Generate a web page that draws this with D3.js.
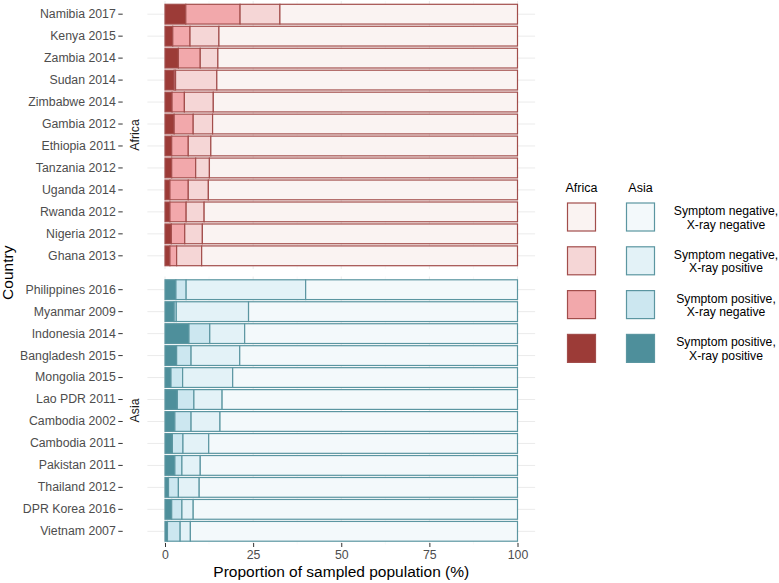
<!DOCTYPE html>
<html>
<head>
<meta charset="utf-8">
<script src="https://cdn.jsdelivr.net/npm/d3@7"></script>
<style>
  body { margin: 0; background: #fff; }
  svg { font-family: "Liberation Sans", Arial, sans-serif; }
</style>
</head>
<body>
<div id="chart"></div>
<script>
// data (percent of sampled population)
const africaCountries = ["Namibia 2017", "Kenya 2015", "Zambia 2014", "Sudan 2014", "Zimbabwe 2014", "Gambia 2012",
  "Ethiopia 2011", "Tanzania 2012", "Uganda 2014", "Rwanda 2012", "Nigeria 2012", "Ghana 2013"];
const africaSpXp = [5.9, 2.2, 3.8, 2.6, 2.0, 2.6, 1.9, 1.9, 1.4, 1.4, 1.8, 1.4];
const africaSpXn = [15.4, 4.9, 6.2, 0.4, 3.5, 5.4, 4.7, 6.8, 5.2, 4.6, 3.8, 1.9];
const africaSnXp = [11.3, 8.2, 5.0, 11.7, 8.2, 5.5, 6.4, 3.9, 5.7, 5.1, 5.0, 7.1];

const asiaCountries = ["Philippines 2016", "Myanmar 2009", "Indonesia 2014", "Bangladesh 2015", "Mongolia 2015", "Lao PDR 2011",
  "Cambodia 2002", "Cambodia 2011", "Pakistan 2011", "Thailand 2012", "DPR Korea 2016", "Vietnam 2007"];
const asiaSpXp = [3.1, 2.6, 6.8, 3.3, 1.7, 3.5, 2.8, 2.1, 2.8, 1.0, 1.9, 0.7];
const asiaSpXn = [2.9, 0.6, 5.9, 4.1, 3.3, 4.7, 4.6, 3.0, 2.0, 2.8, 2.9, 3.6];
const asiaSnXp = [33.9, 20.5, 9.9, 13.8, 14.2, 8.0, 8.2, 7.3, 5.2, 5.9, 3.2, 2.9];

const xTicks = [0, 25, 50, 75, 100];
const groupLabels = ["Symptom negative,\nX-ray negative", "Symptom negative,\nX-ray positive",
  "Symptom positive,\nX-ray negative", "Symptom positive,\nX-ray positive"];

// stacking order, left to right
const keys = ["spxp", "spxn", "snxp", "snxn"];

const palettes = {
  Africa: {stroke: "#a24d4b", fill: {spxp: "#9c3b37", spxn: "#f2a8ab", snxp: "#f5d6d6", snxn: "#faf3f2"}},
  Asia:   {stroke: "#5b96a1", fill: {spxp: "#4e8f9b", spxn: "#cce7f0", snxp: "#e3f2f7", snxn: "#f3f9fb"}}
};

function makeRows(countries, a, b, c) {
  return countries.map((name, i) => ({
    country: name, spxp: a[i], spxn: b[i], snxp: c[i], snxn: 100 - a[i] - b[i] - c[i]
  }));
}

const panels = [
  {region: "Africa", rows: makeRows(africaCountries, africaSpXp, africaSpXn, africaSnXp), top: 1, bottom: 269},
  {region: "Asia", rows: makeRows(asiaCountries, asiaSpXp, asiaSpXn, asiaSnXp), top: 276.5, bottom: 544.5}
];

const width = 779;
const height = 583;

const svg = d3.select("#chart")
  .append("svg")
  .attr("width", width)
  .attr("height", height);

const x = d3.scaleLinear().domain([0, 100]).range([165, 517.5]);
const panelLeft = x(-5), panelRight = x(105);

const stack = d3.stack().keys(keys);

panels.forEach(p => {
  const y = d3.scaleBand()
    .domain(p.rows.map(d => d.country))
    .range([p.top, p.bottom])
    .paddingInner(0.1)
    .paddingOuter(0.15);

  const g = svg.append("g");

  // minor + major vertical grid
  g.selectAll(".vminor")
    .data([12.5, 37.5, 62.5, 87.5])
    .join("line")
    .attr("x1", d => x(d)).attr("x2", d => x(d))
    .attr("y1", p.top).attr("y2", p.bottom)
    .attr("stroke", "#f2f2f2").attr("stroke-width", 0.5);

  g.selectAll(".vmajor")
    .data(xTicks)
    .join("line")
    .attr("x1", d => x(d)).attr("x2", d => x(d))
    .attr("y1", p.top).attr("y2", p.bottom)
    .attr("stroke", "#ebebeb").attr("stroke-width", 1);

  g.selectAll(".hgrid")
    .data(p.rows)
    .join("line")
    .attr("x1", panelLeft).attr("x2", panelRight)
    .attr("y1", d => y(d.country) + y.bandwidth() / 2)
    .attr("y2", d => y(d.country) + y.bandwidth() / 2)
    .attr("stroke", "#ebebeb").attr("stroke-width", 1);

  const pal = palettes[p.region];
  g.selectAll("g.layer")
    .data(stack(p.rows))
    .join("g")
    .attr("class", "layer")
    .attr("fill", s => pal.fill[s.key])
    .selectAll("rect")
    .data(s => s)
    .join("rect")
    .attr("x", d => x(d[0]))
    .attr("width", d => x(d[1]) - x(d[0]))
    .attr("y", d => y(d.data.country))
    .attr("height", y.bandwidth())
    .attr("stroke", pal.stroke)
    .attr("stroke-width", 1.2);

  // y axis (ticks + labels sit left of the strip)
  const yAxis = d3.axisLeft(y).tickSize(4.4).tickPadding(2.5);
  const ya = svg.append("g")
    .attr("transform", "translate(122.7,0)")
    .call(yAxis);
  ya.select(".domain").remove();
  ya.selectAll(".tick line").attr("stroke", "#333333").attr("stroke-width", 1);
  ya.selectAll(".tick text")
    .attr("fill", "#4d4d4d")
    .style("font-size", "12.3px");

  // facet strip
  svg.append("text")
    .attr("transform", `translate(139,${(p.top + p.bottom) / 2}) rotate(-90)`)
    .attr("text-anchor", "middle")
    .attr("fill", "#1a1a1a")
    .style("font-size", "12.3px")
    .text(p.region);
});

// x axis
const xa = svg.append("g")
  .attr("transform", "translate(0,543)")
  .call(d3.axisBottom(x).tickValues(xTicks).tickSize(4).tickPadding(3));
xa.select(".domain").remove();
xa.selectAll(".tick line").attr("stroke", "#333333");
xa.selectAll(".tick text").attr("fill", "#4d4d4d").style("font-size", "12.3px");

svg.append("text")
  .attr("x", (panelLeft + panelRight) / 2)
  .attr("y", 577)
  .attr("text-anchor", "middle")
  .style("font-size", "15.5px")
  .text("Proportion of sampled population (%)");

svg.append("text")
  .attr("transform", `translate(13,${(1 + 544.5) / 2}) rotate(-90)`)
  .attr("text-anchor", "middle")
  .style("font-size", "15.5px")
  .text("Country");

// legend
const legend = svg.append("g");
const legendX = {Africa: 567.5, Asia: 626.5};
const keySize = 28;
const legendTop = 203;
const legendStep = 43.8;
const legendOrder = ["snxn", "snxp", "spxn", "spxp"];

Object.keys(legendX).forEach(region => {
  legend.append("text")
    .attr("x", legendX[region] + keySize / 2)
    .attr("y", 191.5)
    .attr("text-anchor", "middle")
    .style("font-size", "12.5px")
    .text(region);

  legend.selectAll(null)
    .data(legendOrder)
    .join("rect")
    .attr("x", legendX[region])
    .attr("y", (d, i) => legendTop + i * legendStep)
    .attr("width", keySize)
    .attr("height", keySize)
    .attr("fill", d => palettes[region].fill[d])
    .attr("stroke", palettes[region].stroke)
    .attr("stroke-width", 1.2);
});

legend.selectAll("text.lab")
  .data(groupLabels)
  .join("text")
  .attr("class", "lab")
  .attr("text-anchor", "middle")
  .style("font-size", "12.2px")
  .each(function(d, i) {
    const cy = legendTop + i * legendStep + keySize / 2;
    d.split("\n").forEach((line, j) => {
      d3.select(this).append("tspan")
        .attr("x", 726)
        .attr("y", cy - 2 + j * 13.5)
        .text(line);
    });
  });
</script>
</body>
</html>
